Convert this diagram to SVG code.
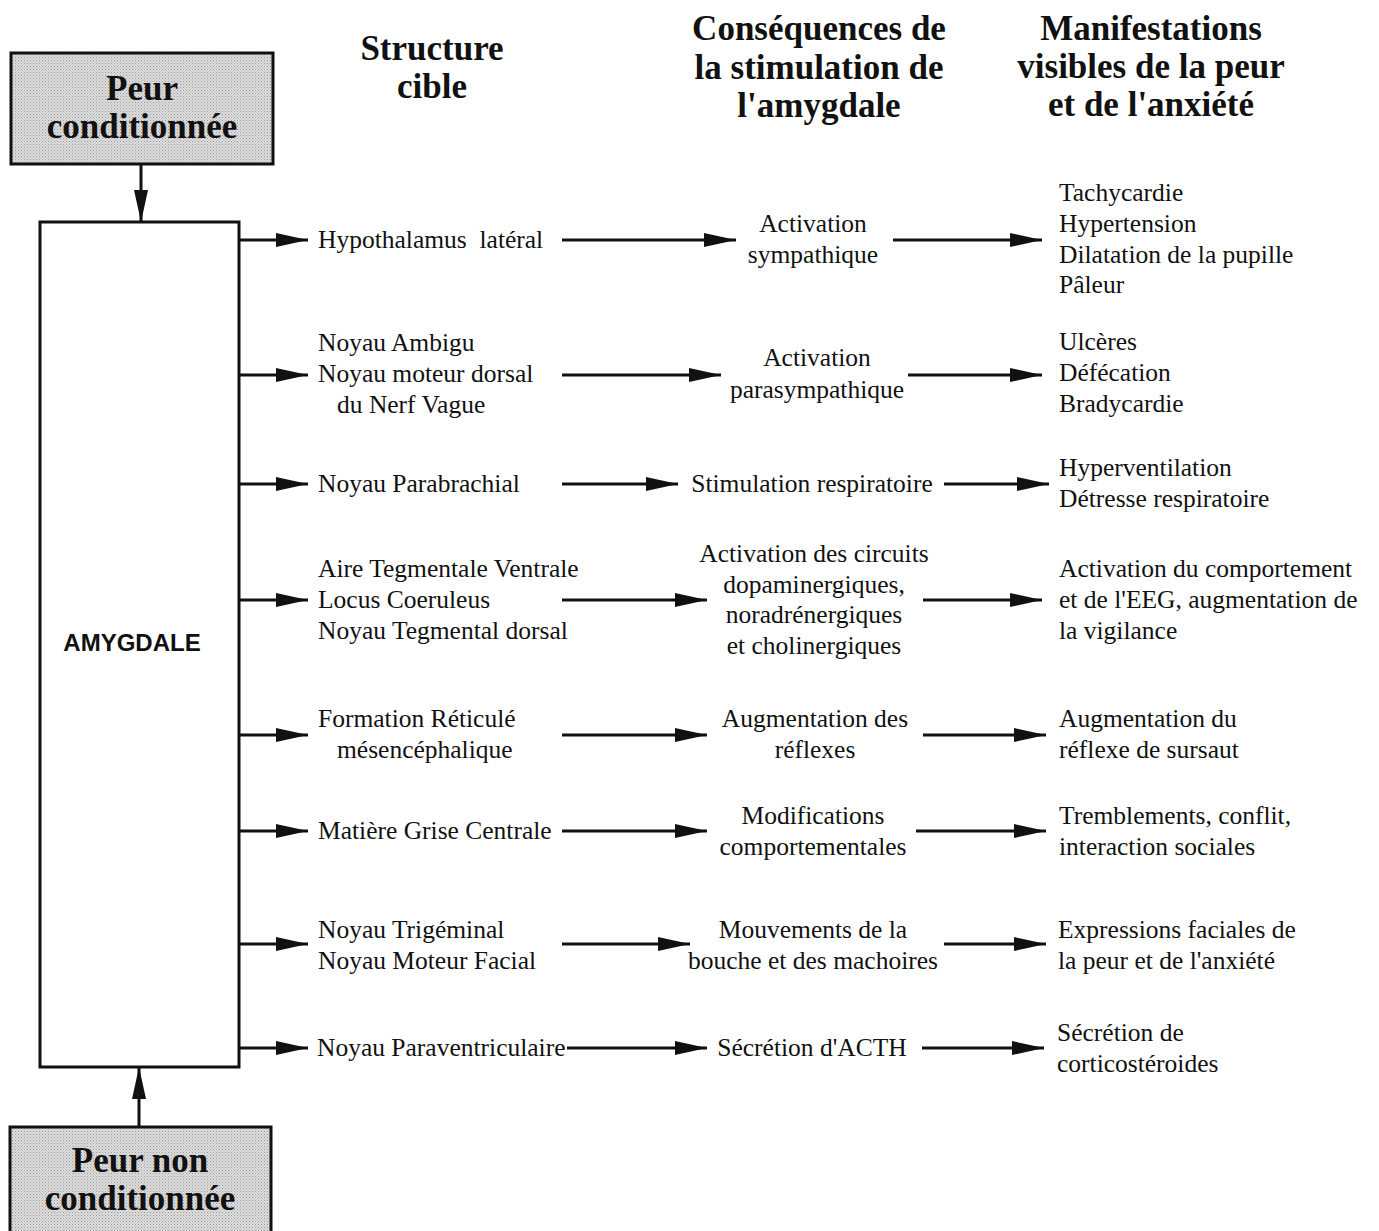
<svg xmlns="http://www.w3.org/2000/svg" width="1379" height="1231" viewBox="0 0 1379 1231">
<defs>
<marker id="ah" markerUnits="userSpaceOnUse" markerWidth="34" markerHeight="16" refX="32" refY="8" orient="auto">
<path d="M0,1 L32,8 L0,15 Z" fill="#111"/>
</marker>
<pattern id="dots" width="3" height="3" patternUnits="userSpaceOnUse">
<rect width="3" height="3" fill="#dcdcdc"/>
<rect width="1" height="1" fill="#9a9a9a"/>
<rect x="1.5" y="1.5" width="1" height="1" fill="#b0b0b0"/>
</pattern>
</defs>
<style>
.hd{font-family:"Liberation Serif","Times New Roman",serif;font-weight:bold;font-size:35px;fill:#111;text-anchor:middle}
.t{font-family:"Liberation Serif","Times New Roman",serif;font-size:25.5px;fill:#111}
.c{text-anchor:middle}
.box{stroke:#111;stroke-width:3}
.ln{stroke:#111;stroke-width:3;fill:none;marker-end:url(#ah)}
</style>
<rect width="1379" height="1231" fill="#fff"/>

<g id="headers">
<text class="hd" x="432" y="60">Structure</text>
<text class="hd" x="432" y="98">cible</text>
<text class="hd" x="819" y="40">Conséquences de</text>
<text class="hd" x="819" y="79">la stimulation de</text>
<text class="hd" x="819" y="117">l'amygdale</text>
<text class="hd" x="1151" y="40">Manifestations</text>
<text class="hd" x="1151" y="78">visibles de la peur</text>
<text class="hd" x="1151" y="116">et de l'anxiété</text>
</g>

<g id="peur-conditionnee">
<rect class="box" x="11" y="53" width="262" height="111" fill="url(#dots)"/>
<text class="hd" x="142" y="100">Peur</text>
<text class="hd" x="142" y="138">conditionnée</text>
</g>

<g id="amygdale">
<rect class="box" x="40" y="222" width="199" height="845" fill="#fff"/>
<text x="132" y="651" text-anchor="middle" font-family="Liberation Sans, Arial, sans-serif" font-weight="bold" font-size="24" fill="#111">AMYGDALE</text>
</g>

<g id="peur-non-conditionnee">
<rect class="box" x="10" y="1127" width="261" height="110" fill="url(#dots)"/>
<text class="hd" x="140" y="1172">Peur non</text>
<text class="hd" x="140" y="1210">conditionnée</text>
</g>

<g id="connectors">
<line class="ln" x1="141" y1="164" x2="141" y2="222"/>
<line class="ln" x1="139" y1="1127" x2="139" y2="1067"/>
<line class="ln" x1="239" y1="240" x2="308" y2="240"/>
<line class="ln" x1="239" y1="375" x2="308" y2="375"/>
<line class="ln" x1="239" y1="484" x2="308" y2="484"/>
<line class="ln" x1="239" y1="600" x2="308" y2="600"/>
<line class="ln" x1="239" y1="735" x2="308" y2="735"/>
<line class="ln" x1="239" y1="831" x2="308" y2="831"/>
<line class="ln" x1="239" y1="944" x2="308" y2="944"/>
<line class="ln" x1="239" y1="1048" x2="308" y2="1048"/>
<line class="ln" x1="562" y1="240" x2="736" y2="240"/>
<line class="ln" x1="562" y1="375" x2="721" y2="375"/>
<line class="ln" x1="562" y1="484" x2="678" y2="484"/>
<line class="ln" x1="562" y1="600" x2="707" y2="600"/>
<line class="ln" x1="562" y1="735" x2="707" y2="735"/>
<line class="ln" x1="562" y1="831" x2="707" y2="831"/>
<line class="ln" x1="562" y1="944" x2="690" y2="944"/>
<line class="ln" x1="567" y1="1048" x2="707" y2="1048"/>
<line class="ln" x1="893" y1="240" x2="1042" y2="240"/>
<line class="ln" x1="908" y1="375" x2="1042" y2="375"/>
<line class="ln" x1="944" y1="484" x2="1049" y2="484"/>
<line class="ln" x1="923" y1="600" x2="1042" y2="600"/>
<line class="ln" x1="923" y1="735" x2="1046" y2="735"/>
<line class="ln" x1="916" y1="831" x2="1046" y2="831"/>
<line class="ln" x1="944" y1="944" x2="1046" y2="944"/>
<line class="ln" x1="922" y1="1048" x2="1044" y2="1048"/>
</g>

<g id="row1">
<text class="t" x="318" y="248" xml:space="preserve">Hypothalamus  latéral</text>
<text class="t c" x="813" y="232">Activation</text>
<text class="t c" x="813" y="263">sympathique</text>
<text class="t" x="1059" y="201">Tachycardie</text>
<text class="t" x="1059" y="232">Hypertension</text>
<text class="t" x="1059" y="263">Dilatation de la pupille</text>
<text class="t" x="1059" y="293">Pâleur</text>
</g>

<g id="row2">
<text class="t" x="318" y="351">Noyau Ambigu</text>
<text class="t" x="318" y="382">Noyau moteur dorsal</text>
<text class="t" x="337" y="413">du Nerf Vague</text>
<text class="t c" x="817" y="366">Activation</text>
<text class="t c" x="817" y="398">parasympathique</text>
<text class="t" x="1059" y="350">Ulcères</text>
<text class="t" x="1059" y="381">Défécation</text>
<text class="t" x="1059" y="412">Bradycardie</text>
</g>

<g id="row3">
<text class="t" x="318" y="492">Noyau Parabrachial</text>
<text class="t c" x="812" y="492">Stimulation respiratoire</text>
<text class="t" x="1059" y="476">Hyperventilation</text>
<text class="t" x="1059" y="507">Détresse respiratoire</text>
</g>

<g id="row4">
<text class="t" x="318" y="577">Aire Tegmentale Ventrale</text>
<text class="t" x="318" y="608">Locus Coeruleus</text>
<text class="t" x="318" y="639">Noyau Tegmental dorsal</text>
<text class="t c" x="814" y="562">Activation des circuits</text>
<text class="t c" x="814" y="593">dopaminergiques,</text>
<text class="t c" x="814" y="623">noradrénergiques</text>
<text class="t c" x="814" y="654">et cholinergiques</text>
<text class="t" x="1059" y="577">Activation du comportement</text>
<text class="t" x="1059" y="608">et de l'EEG, augmentation de</text>
<text class="t" x="1059" y="639">la vigilance</text>
</g>

<g id="row5">
<text class="t" x="318" y="727">Formation Réticulé</text>
<text class="t" x="337" y="758">mésencéphalique</text>
<text class="t c" x="815" y="727">Augmentation des</text>
<text class="t c" x="815" y="758">réflexes</text>
<text class="t" x="1059" y="727">Augmentation du</text>
<text class="t" x="1059" y="758">réflexe de sursaut</text>
</g>

<g id="row6">
<text class="t" x="318" y="839">Matière Grise Centrale</text>
<text class="t c" x="813" y="824">Modifications</text>
<text class="t c" x="813" y="855">comportementales</text>
<text class="t" x="1059" y="824">Tremblements, conflit,</text>
<text class="t" x="1059" y="855">interaction sociales</text>
</g>

<g id="row7">
<text class="t" x="318" y="938">Noyau Trigéminal</text>
<text class="t" x="318" y="969">Noyau Moteur Facial</text>
<text class="t c" x="813" y="938">Mouvements de la</text>
<text class="t c" x="813" y="969">bouche et des machoires</text>
<text class="t" x="1058" y="938">Expressions faciales de</text>
<text class="t" x="1058" y="969">la peur et de l'anxiété</text>
</g>

<g id="row8">
<text class="t" x="317" y="1056">Noyau Paraventriculaire</text>
<text class="t c" x="812" y="1056">Sécrétion d'ACTH</text>
<text class="t" x="1057" y="1041">Sécrétion de</text>
<text class="t" x="1057" y="1072">corticostéroides</text>
</g>
</svg>
